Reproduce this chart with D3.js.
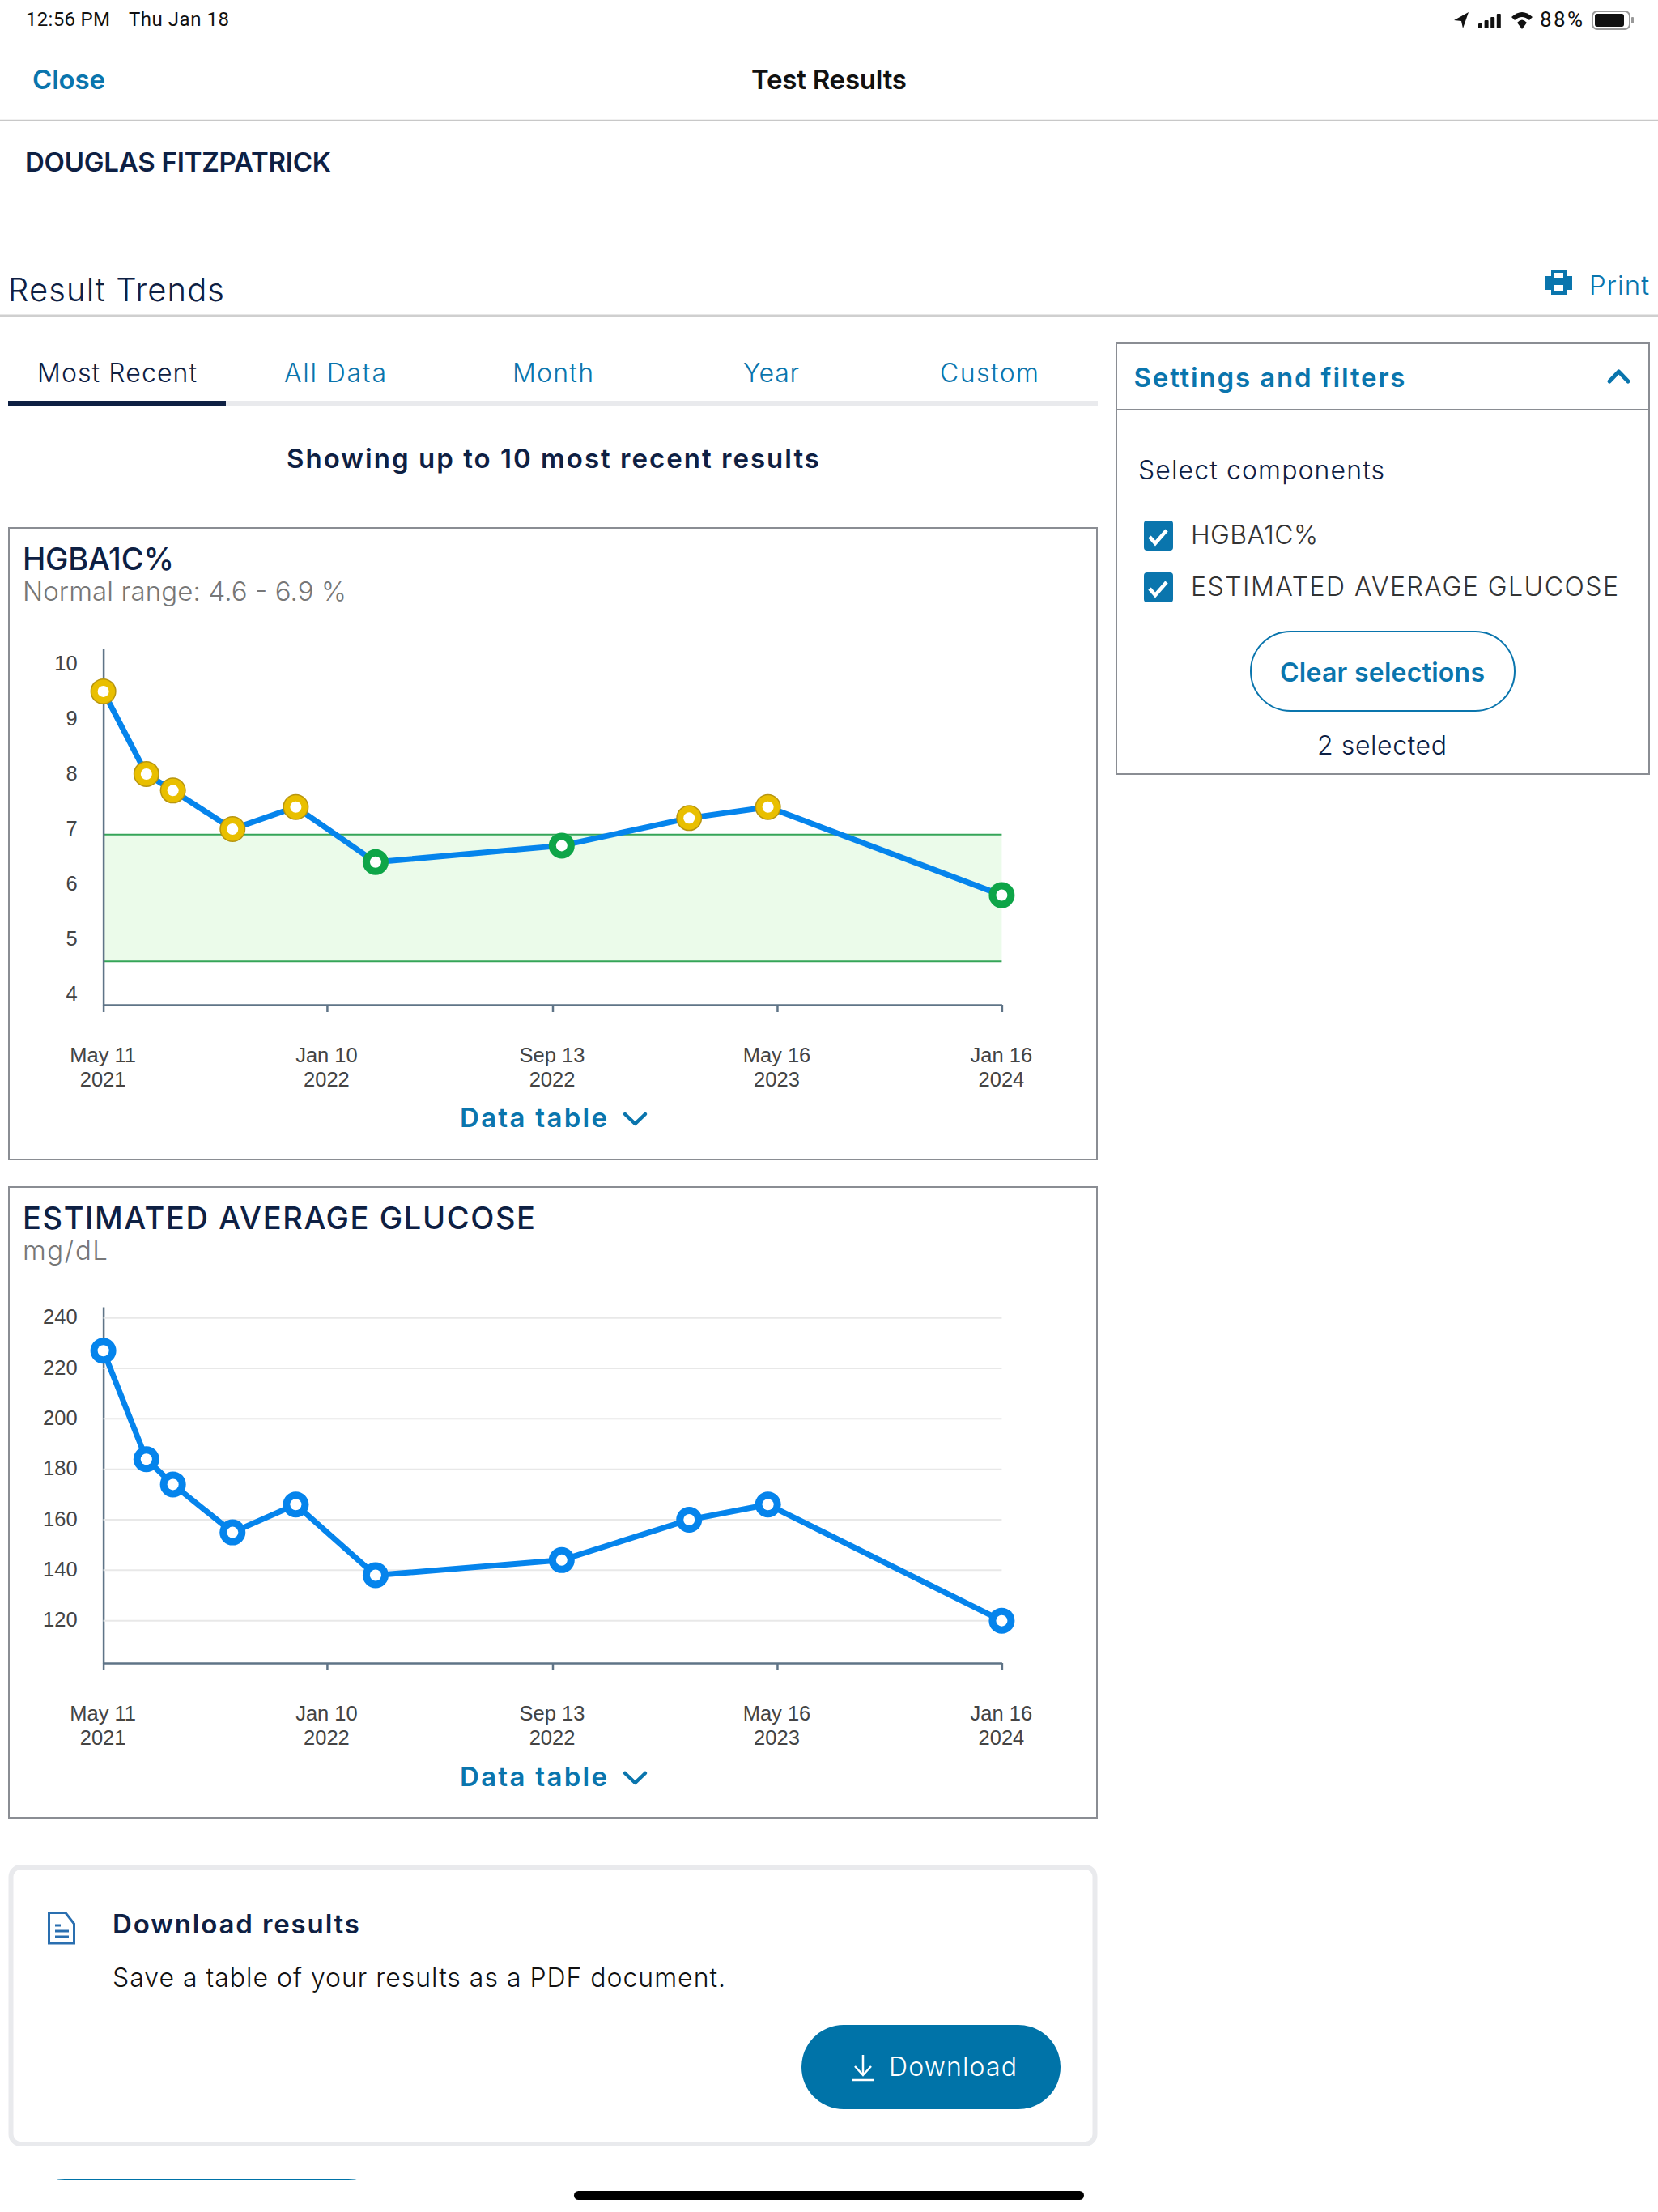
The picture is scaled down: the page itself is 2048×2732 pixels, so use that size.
<!DOCTYPE html>
<meta charset="utf-8">
<style>
html, body { margin: 0; background: #fff; }
svg { display: block; }
.tick text { font-family: "Liberation Sans", Arial, sans-serif; font-size: 25.5px; fill: #444; }
</style>
<body>
<script src="https://d3js.org/d3.v7.min.js"></script>
<script>

var resultDates = ["2021-05-11", "2021-06-27", "2021-07-26", "2021-09-29", "2021-12-07",
                   "2022-03-04", "2022-09-23", "2023-02-09", "2023-05-06", "2024-01-16"];
var a1cValues = [9.5, 8.0, 7.7, 7.0, 7.4, 6.4, 6.7, 7.2, 7.4, 5.8];
var glucoseValues = [227, 184, 174, 155, 166, 138, 144, 160, 166, 120];
var a1cTicks = [4, 5, 6, 7, 8, 9, 10];
var glucoseTicks = [120, 140, 160, 180, 200, 220, 240];
var a1cRange = [4.6, 6.9];
var xTickDates = ["2021-05-11", "2022-01-10", "2022-09-13", "2023-05-16", "2024-01-16"];
var xTickLabels = [["May 11", "2021"], ["Jan 10", "2022"], ["Sep 13", "2022"], ["May 16", "2023"], ["Jan 16", "2024"]];
var tabNames = ["Most Recent", "All Data", "Month", "Year", "Custom"];
var tabStarts = [46, 351, 633, 918, 1161];
var tabWidths = [197, 126, 100, 69, 122];

var NAVY = "#0e2043", TEAL = "#0a75ad", BLUE = "#0584ec", GREY = "#777";
var UI = "Inter, 'Noto Sans', sans-serif";

var svg = d3.select("body").append("svg").attr("width", 2048).attr("height", 2732);

// text helper: o.w is the target width
function label(x, y, s, o) {
  o = o || {};
  var t = svg.append("text")
    .attr("x", x).attr("y", y)
    .attr("dominant-baseline", "central")
    .attr("text-anchor", o.anchor || "start")
    .attr("font-family", o.font || UI)
    .attr("font-size", o.size || 30)
    .attr("font-weight", o.weight || 400)
    .attr("fill", o.fill || NAVY)
    .text(s);
  if (o.w) t.attr("textLength", o.w).attr("lengthAdjust", "spacing");
  return t;
}

function hline(x1, x2, y, color, w) {
  svg.append("line").attr("x1", x1).attr("x2", x2).attr("y1", y).attr("y2", y)
    .attr("stroke", color).attr("stroke-width", w);
}

function box(x, y, w, h, o) {
  return svg.append("rect").attr("x", x).attr("y", y).attr("width", w).attr("height", h)
    .attr("rx", o.r || 0)
    .attr("fill", o.fill || "none")
    .attr("stroke", o.stroke || "none")
    .attr("stroke-width", o.sw || 0);
}

function chevron(d, w) {
  svg.append("path").attr("d", d).attr("fill", "none").attr("stroke", TEAL)
    .attr("stroke-width", w).attr("stroke-linecap", "round").attr("stroke-linejoin", "round");
}

// status bar
label(32, 24, "12:56 PM", {font: "Roboto", size: 24, fill: "#111", w: 104});
label(159, 24, "Thu Jan 18", {font: "Roboto", size: 24, fill: "#111", w: 124});
svg.append("path").attr("d", "M1796 25 L1814 15 L1807 35 L1805 26 Z").attr("fill", "#111");
[0, 1, 2, 3].forEach(function(i) {
  box(1826 + i * 7.6, 29 - i * 4, 5, 6 + i * 4, {fill: "#111", r: 1});
});
svg.append("path").attr("d", "M1867 21 Q1880 9 1893 21 L1889 25 Q1880 17 1871 25 Z M1874 28 Q1880 21 1886 28 L1880 36 Z").attr("fill", "#111");
label(1902, 24, "88%", {font: "Roboto", size: 26, fill: "#111", w: 53});
box(1967, 14, 46, 22, {stroke: "#999", sw: 2, r: 6});
box(1970, 17, 36, 16, {fill: "#111", r: 3});
box(2015, 21, 3, 8, {fill: "#999", r: 1});

// header
label(40, 98, "Close", {size: 33, weight: 600, fill: TEAL, w: 90});
label(928, 98, "Test Results", {size: 33, weight: 600, fill: "#111", w: 192});
hline(0, 2048, 148.5, "#c8c8c8", 1.5);
label(31, 200, "DOUGLAS FITZPATRICK", {size: 33, weight: 600, w: 378});
label(10, 357, "Result Trends", {size: 40, weight: 300, w: 267});

svg.append("path").attr("fill", TEAL).attr("fill-rule", "evenodd")
  .attr("d", "M1916 333 H1935 V341 H1942 V358 H1935 V364 H1916 V358 H1909 V341 H1916 Z M1920 337 V343 H1931 V337 Z M1920 352 V360 H1931 V352 Z");
label(1963, 352, "Print", {size: 33, weight: 300, fill: TEAL, w: 74});
hline(0, 2048, 390, "#cfcfcf", 3);

// tabs
tabNames.forEach(function(name, i) {
  label(tabStarts[i], 460, name, {size: 32, weight: 300, fill: i == 0 ? NAVY : TEAL, w: tabWidths[i]});
});
box(10, 495, 1346, 6, {fill: "#e9eaed"});
box(10, 495, 269, 6, {fill: NAVY});
label(354, 566, "Showing up to 10 most recent results", {size: 33, weight: 600, w: 658});

// settings panel
box(1379, 424, 658, 532, {stroke: "#8a8d93", sw: 2});
hline(1379, 2037, 506, "#8a8d93", 2);
label(1400.5, 466, "Settings and filters", {size: 33, weight: 600, fill: TEAL, w: 335});
chevron("M1988 471 L1999.5 459 L2011 471", 5);
label(1406, 580, "Select components", {size: 32, weight: 300, w: 304});
[[643, 660, "HGBA1C%", 157], [707, 724, "ESTIMATED AVERAGE GLUCOSE", 528]].forEach(function(c) {
  box(1413, c[0], 36, 37, {fill: TEAL, r: 4});
  svg.append("path").attr("d", "M1420 " + (c[0] + 20) + " l7 8 l14 -16").attr("fill", "none")
    .attr("stroke", "#fff").attr("stroke-width", 4.5);
  label(1471, c[1], c[2], {size: 32, weight: 300, fill: "#333", w: c[3]});
});
box(1545, 780, 326, 98, {stroke: TEAL, sw: 2, r: 49});
label(1581, 830, "Clear selections", {size: 32, weight: 600, fill: TEAL, w: 253});
label(1627, 920, "2 selected", {size: 32, weight: 300, w: 160});

// one trend card; the scale domain runs to the ends of the drawn axis lines
function drawChart(c) {
  var x = d3.scaleUtc().domain([new Date(xTickDates[0]), new Date(xTickDates[4])]).range([127.6, 1237.4]);
  var y = d3.scaleLinear().domain(c.domain).range([c.bottom, c.top]);

  box(11, c.cardTop, 1344, c.cardHeight, {stroke: "#8a8d93", sw: 2});
  label(28, c.cardTop + 38, c.title, {size: 38, weight: 500, w: c.titleW});
  label(28, c.cardTop + 78, c.sub, {size: 33, weight: 300, fill: GREY, w: c.subW});

  if (c.band) {
    svg.append("rect")
      .attr("x", x.range()[0]).attr("width", x.range()[1] - x.range()[0])
      .attr("y", y(c.band[1])).attr("height", y(c.band[0]) - y(c.band[1]))
      .attr("fill", "#ebfbea");
    c.band.forEach(function(v) { hline(x.range()[0], x.range()[1], y(v), "#35a558", 2); });
  }

  var yAxis = svg.append("g").attr("transform", "translate(" + x.range()[0] + ",0)")
    .call(d3.axisLeft(y).tickValues(c.ticks).tickSize(0).tickPadding(32).tickFormat(d3.format("d")));
  yAxis.select(".domain").attr("stroke", "#5f7487").attr("stroke-width", 2.5);
  yAxis.selectAll(".tick text").attr("dy", "0.28em");

  if (c.grid) {
    c.ticks.forEach(function(v) { hline(x.range()[0], x.range()[1], y(v), "#e8e8e8", 2); });
  }

  var xAxis = svg.append("g").attr("transform", "translate(0," + c.bottom + ")")
    .call(d3.axisBottom(x).tickValues(xTickDates.map(function(d) { return new Date(d); })).tickSize(9).tickSizeOuter(0));
  xAxis.selectAll("path, line").attr("stroke", "#5f7487").attr("stroke-width", 2.5);
  xAxis.selectAll(".tick text").each(function(d, i) {
    var t = d3.select(this).text(null).attr("dy", null).attr("y", 0);
    xTickLabels[i].forEach(function(s, j) {
      t.append("tspan").attr("x", -1).attr("y", 62 + j * 30).attr("dominant-baseline", "central").text(s);
    });
  });

  var pts = resultDates.map(function(d, i) { return {date: new Date(d), value: c.values[i]}; });
  svg.append("path").datum(pts)
    .attr("fill", "none").attr("stroke", BLUE).attr("stroke-width", 7).attr("stroke-linejoin", "round")
    .attr("d", d3.line().x(function(d) { return x(d.date); }).y(function(d) { return y(d.value); }));

  function outOfRange(d) { return c.band && (d.value < c.band[0] || d.value > c.band[1]); }

  var marks = svg.append("g").selectAll("g").data(pts).join("g")
    .attr("transform", function(d) { return "translate(" + x(d.date) + "," + y(d.value) + ")"; });
  marks.append("circle").attr("r", 16)
    .attr("fill", function(d) { return outOfRange(d) ? "#b7950f" : c.band ? "#0ea548" : BLUE; });
  marks.append("circle").attr("r", 14.5)
    .attr("fill", function(d) { return outOfRange(d) ? "#e9bf00" : c.band ? "#0ea548" : BLUE; });
  marks.append("circle").attr("r", 7).attr("fill", "#fff");

  label(568, c.tableY, "Data table", {size: 33, weight: 600, fill: TEAL, w: 182});
  chevron("M772 " + (c.tableY - 4) + " l12.5 12 l12.5 -12", 4.5);
}

drawChart({
  title: "HGBA1C%", titleW: 187, sub: "Normal range: 4.6 - 6.9 %", subW: 400,
  cardTop: 652, cardHeight: 780, top: 801.5, bottom: 1241, tableY: 1380,
  domain: [3.81, 10.27], ticks: a1cTicks, values: a1cValues, band: a1cRange
});
drawChart({
  title: "ESTIMATED AVERAGE GLUCOSE", titleW: 633, sub: "mg/dL", subW: 105,
  cardTop: 1466, cardHeight: 779, top: 1614, bottom: 2054, tableY: 2194,
  domain: [103.2, 244.4], ticks: glucoseTicks, values: glucoseValues, grid: true
});

// download card
box(13.5, 2306, 1339, 342, {stroke: "#e9eaed", sw: 6, r: 12});
svg.append("path").attr("fill", "none").attr("stroke", "#2a6fb0").attr("stroke-width", 3)
  .attr("d", "M60.5 2362.5 H81 L91.5 2376 V2400 H60.5 Z");
svg.append("path").attr("fill", "none").attr("stroke", "#2a6fb0").attr("stroke-width", 3)
  .attr("d", "M68 2378 H75 M68 2385 H85 M68 2392 H85");
label(139, 2376, "Download results", {size: 33, weight: 600, w: 305});
label(139, 2442, "Save a table of your results as a PDF document.", {size: 32, weight: 300, fill: "#111", w: 757});
box(990, 2501, 320, 104, {fill: "#0073a8", r: 52});
svg.append("path").attr("fill", "none").attr("stroke", "#fff").attr("stroke-width", 2.5)
  .attr("d", "M1066 2538 V2563 M1056 2552 L1066 2563 L1076 2552 M1053 2569 H1079");
label(1098, 2552, "Download", {size: 32, weight: 300, fill: "#fff", w: 158});

// next button just showing, then the home bar
svg.append("path").attr("fill", "#0073a8").attr("d", "M67 2693 Q70 2691 80 2691 H430 Q440 2691 444 2693 Z");
box(709, 2706, 630, 11, {fill: "#000", r: 5.5});

</script>
</body>
